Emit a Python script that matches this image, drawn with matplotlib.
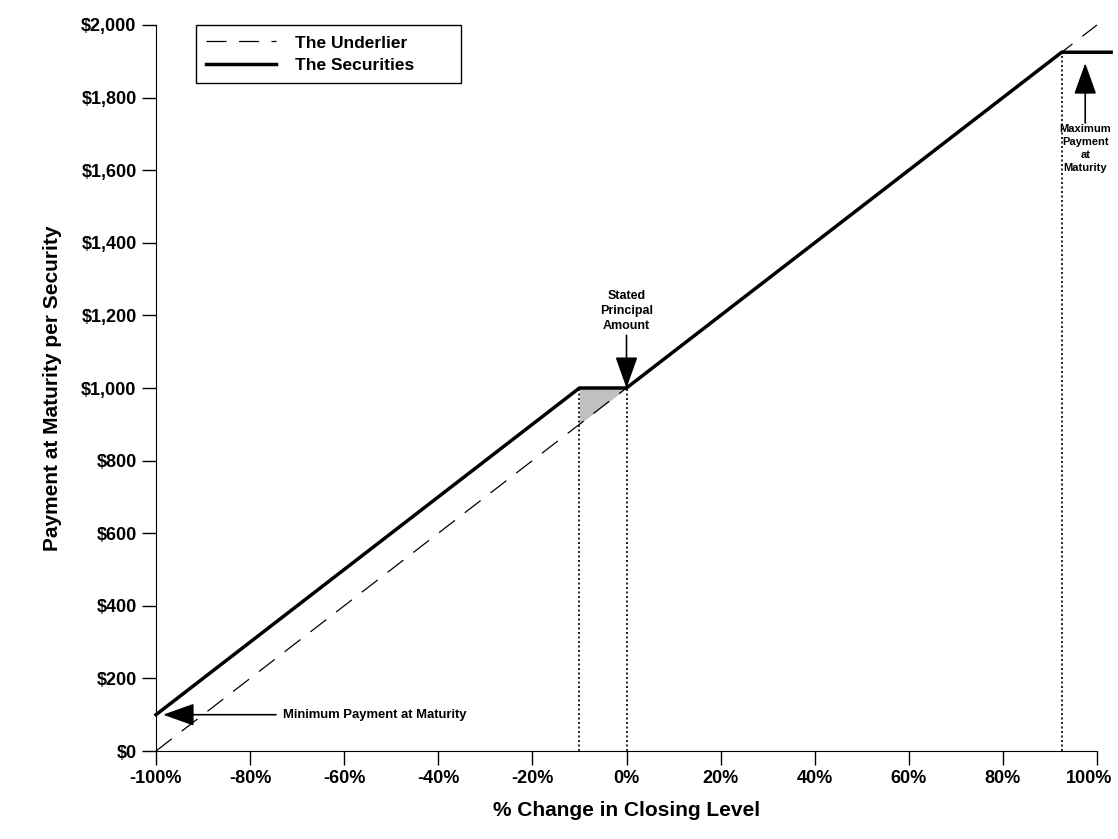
import matplotlib
matplotlib.use("Agg")
import matplotlib.pyplot as plt
import numpy as np
from matplotlib.ticker import FuncFormatter
from matplotlib.transforms import ScaledTranslation

plt.rcParams["font.family"] = ["Liberation Sans", "DejaVu Sans"]
plt.rcParams["font.weight"] = "bold"

# данные
underlier_pct = [-100, 100]
underlier_pay = [0, 2000]
securities_pct = [-100, -10, 0, 92.5, 103]
securities_pay = [100, 1000, 1000, 1925, 1925]
buffer_pct = [-10, 0]
buffer_underlier = [900, 1000]
buffer_securities = [1000, 1000]
x_ticks = [-100, -80, -60, -40, -20, 0, 20, 40, 60, 80, 100]
y_ticks = [0, 200, 400, 600, 800, 1000, 1200, 1400, 1600, 1800, 2000]

fig = plt.figure(figsize=(11.18, 8.39), dpi=100)
ax = fig.add_axes([156 / 1118, 88 / 839, 941 / 1118, 726 / 839])

ax.plot(underlier_pct, underlier_pay, color="black", lw=0.9,
        dashes=(16, 10), label="The Underlier", clip_on=False)
ax.plot(securities_pct, securities_pay, color="black", lw=2.5,
        solid_joinstyle="miter", label="The Securities", clip_on=False, zorder=4)
ax.fill_between(buffer_pct, buffer_underlier, buffer_securities,
                color="#c0c0c0", lw=0, zorder=1)

# пунктирные вертикали
for xv, yv in [(securities_pct[1], securities_pay[1]),
               (securities_pct[2], securities_pay[2]),
               (securities_pct[3], securities_pay[3])]:
    ax.plot([xv, xv], [0, yv], color="black", lw=1.2, ls=(0, (1.2, 1.5)), zorder=2)

arrow = dict(arrowstyle="-|>,head_length=1.4,head_width=0.5", color="black",
             lw=1.2, shrinkA=0, shrinkB=0, mutation_scale=14)

ax.annotate("", xy=(0, 1000), xytext=(0, 1145), arrowprops=arrow, zorder=5)
ax.text(0, 1212, "Stated\nPrincipal\nAmount", ha="center", va="center",
        fontsize=9, linespacing=1.3)

ax.annotate("", xy=(-98.5, 100), xytext=(-74.5, 100), arrowprops=arrow, zorder=5)
ax.text(-73, 100, "Minimum Payment at Maturity", ha="left", va="center",
        fontsize=9.4)

ax.annotate("", xy=(97.5, 1895), xytext=(97.5, 1730), arrowprops=arrow,
            annotation_clip=False, zorder=5)
ax.text(97.5, 1660, "Maximum\nPayment\nat\nMaturity", ha="center", va="center",
        fontsize=8, linespacing=1.35, clip_on=False)

ax.set_xlim(-100, 100)
ax.set_ylim(0, 2000)
ax.set_xticks(x_ticks)
ax.set_yticks(y_ticks)
ax.xaxis.set_major_formatter(FuncFormatter(lambda v, _: f"{v:.0f}%"))
ax.yaxis.set_major_formatter(FuncFormatter(lambda v, _: f"${v:,.0f}"))
ax.tick_params(direction="out", length=10, width=1, labelsize=13, pad=4)
for lbl in ax.get_xticklabels() + ax.get_yticklabels():
    lbl.set_fontweight("bold")
# последнюю подпись чуть влево, чтобы не обрезалась
last = ax.get_xticklabels()[-1]
last.set_transform(last.get_transform() + ScaledTranslation(-6 / 72, 0, fig.dpi_scale_trans))
ax.spines["top"].set_visible(False)
ax.spines["right"].set_visible(False)

ax.set_xlabel("% Change in Closing Level", fontsize=15, fontweight="bold", labelpad=10)
ax.set_ylabel("Payment at Maturity per Security", fontsize=15, fontweight="bold",
              labelpad=14)

leg = ax.legend(loc="upper left", bbox_to_anchor=(40 / 941, 0.913, 265 / 941, 0.087),
                mode="expand", fancybox=False, edgecolor="black", framealpha=1,
                borderaxespad=0, handlelength=4, handletextpad=1.1,
                labelspacing=0.4, borderpad=0.6, prop={"weight": "bold", "size": 12.5})
leg.get_frame().set_linewidth(1)

fig.savefig("out.png", dpi=100)
plt.close(fig)
